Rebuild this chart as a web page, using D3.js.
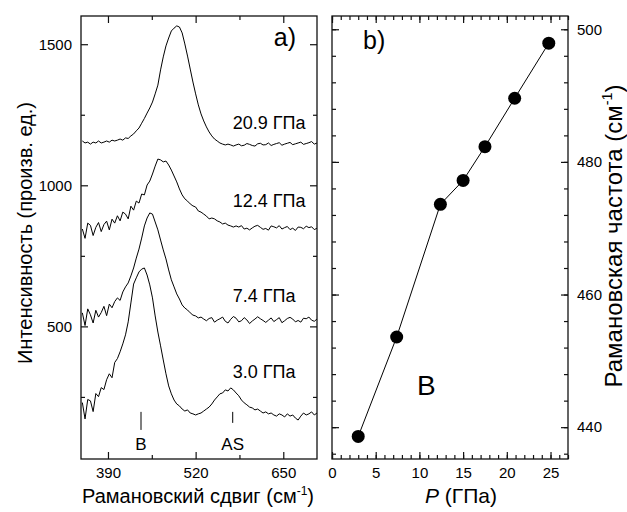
<!DOCTYPE html>
<html>
<head>
<meta charset="utf-8">
<script src="https://cdn.jsdelivr.net/npm/d3@7"></script>
<style>
  body { margin: 0; background: #fff; }
  text { font-family: Arial, "Liberation Sans", sans-serif; fill: #000; }
</style>
</head>
<body>
<svg id="chart" width="627" height="512"></svg>
<script>
// Raman shift grid (cm-1) shared by all spectra
const shift = [352,356,360,364,368,372,376,380,384,388,392,396,400,404,408,412,416,420,424,428,
  432,436,440,444,448,452,456,460,464,468,472,476,480,484,488,492,496,500,504,508,512,516,520,524,
  528,532,536,540,544,548,552,556,560,564,568,572,576,580,584,588,592,596,600,604,608,612,616,620,
  624,628,632,636,640,644,648,652,656,660,664,668,672,676,680,684,688,692,696,700];

// spectra (arb. units, already offset)
const spec30 = [230,172,241,236,198,262,251,283,276,311,332,318,372,386,410,438,470,
  516,583,650,672,693,703,707,682,647,601,537,480,431,381,332,289,261,239,225,218,
  207,200,204,193,190,186,190,193,200,207,214,225,239,250,261,264,275,271,282,275,
  264,254,239,229,222,214,211,204,207,200,193,197,190,193,186,182,190,186,179,190,
  182,186,175,168,182,193,186,190,197,186,193];
const spec74 = [548,503,562,541,512,557,533,549,571,538,579,566,588,601,592,622,640,654,679,707,
  742,774,813,856,884,902,898,870,842,806,771,739,700,665,640,615,597,576,565,558,548,540,537,530,533,526,
  520,528,531,515,522,527,533,518,512,525,535,529,516,520,531,523,510,519,526,534,
  527,521,514,522,530,517,524,531,513,520,528,532,526,516,521,515,529,527,533,522,518,526];
const spec124 = [845,812,866,858,822,851,868,836,861,873,842,880,866,892,874,905,898,881,926,912,
  944,937,969,966,1001,1015,1040,1068,1093,1090,1083,1086,1072,1054,1033,1012,987,966,952,944,
  934,927,923,909,905,898,891,881,884,881,874,870,863,866,859,856,852,856,
  852,857,845,848,842,849,855,858,851,844,847,841,856,853,849,857,845,850,854,843,
  848,840,852,851,846,855,850,853,843,848];
const spec209 = [1157,1150,1153,1146,1153,1150,1157,1150,1153,1157,1153,1160,1157,1160,1164,1160,1168,
  1166,1175,1182,1193,1203,1220,1237,1256,1274,1295,1324,1355,1409,1455,1494,1522,1547,1557,1565,
  1561,1540,1501,1458,1412,1366,1324,1285,1253,1228,1207,1189,1175,1164,1157,1150,1146,1143,1146,1143,1139,
  1143,1146,1140,1142,1148,1145,1141,1139,1147,1149,1143,1144,1150,1141,1145,1148,
  1151,1142,1146,1149,1152,1144,1147,1150,1153,1145,1148,1151,1155,1146,1150];

const spectra = [spec30, spec74, spec124, spec209];
const specLabels = ["3.0 ГПа", "7.4 ГПа", "12.4 ГПа", "20.9 ГПа"];
const specLabelLevel = [317, 587, 923, 1200];

// peak markers under the 3.0 GPa curve
const peakNames = ["B", "AS"];
const peakPos = [439, 575];

// panel b: B-mode frequency vs pressure
const pressure = [3.0, 7.4, 12.4, 15.0, 17.5, 20.9, 24.8];
const ramanFreq = [438.6, 453.6, 473.6, 477.2, 482.3, 489.6, 497.9];

const shiftMajor = [390, 520, 650];
const shiftMinor = [455, 585];
const intMajor = [500, 1000, 1500];
const intMinor = [250, 750, 1250];
const pMajor = [0, 5, 10, 15, 20, 25];
const pMinor = d3.range(0, 28, 1);
const fMajor = [440, 460, 480, 500];
const fMinor = d3.range(436, 501, 4);

const svg = d3.select("#chart");
const H = { top: 16, bottom: 459 };
const A = { left: 81, right: 317 };
const B = { left: 332, right: 568 };

const x1 = d3.scaleLinear().domain([350, 700]).range([A.left, A.right]);
const y1 = d3.scaleLinear().domain([30, 1600]).range([H.bottom, H.top]);
const x2 = d3.scaleLinear().domain([0, 27]).range([B.left, B.right]);
const y2 = d3.scaleLinear().domain([435.2, 502]).range([H.bottom, H.top]);

function ticks(g, axis, scale, values, size, labels, pad) {
  const a = axis(scale).tickValues(values).tickSize(size).tickSizeOuter(0)
    .tickPadding(pad || 8)
    .tickFormat(labels ? d3.format("d") : "");
  g.call(a);
  g.select(".domain").remove();
  g.selectAll("line").attr("stroke", "#111").attr("stroke-width", 1.2);
  g.selectAll("text").attr("font-size", 15).attr("font-family", null);
}

function frame(x, y, xMaj, xMin, yMaj, yMin, yLabelSide) {
  const [l, r] = x.range();
  const [b, t] = y.range();
  const add = (tr) => svg.append("g").attr("transform", tr);
  ticks(add(`translate(0,${b})`), d3.axisBottom, x, xMaj, -7, true, 8);
  ticks(add(`translate(0,${b})`), d3.axisBottom, x, xMin, -4, false);
  ticks(add(`translate(0,${t})`), d3.axisTop, x, xMaj, -7, false);
  ticks(add(`translate(0,${t})`), d3.axisTop, x, xMin, -4, false);
  ticks(add(`translate(${l},0)`), d3.axisLeft, y, yMaj, -7, yLabelSide === "left", 9);
  ticks(add(`translate(${l},0)`), d3.axisLeft, y, yMin, -4, false);
  ticks(add(`translate(${r},0)`), d3.axisRight, y, yMaj, -7, yLabelSide === "right", 9);
  ticks(add(`translate(${r},0)`), d3.axisRight, y, yMin, -4, false);
  svg.append("rect")
    .attr("x", l).attr("y", t).attr("width", r - l).attr("height", b - t)
    .attr("fill", "none").attr("stroke", "#111").attr("stroke-width", 1.3);
}

// ---- panel a ----
const line1 = d3.line().x((d, i) => x1(shift[i])).y((d) => y1(d));
svg.append("g")
  .selectAll("path")
  .data(spectra)
  .join("path")
  .attr("d", line1)
  .attr("fill", "none")
  .attr("stroke", "#000")
  .attr("stroke-width", 1)
  .attr("stroke-linejoin", "round");

svg.append("g")
  .selectAll("text")
  .data(specLabels)
  .join("text")
  .attr("x", x1(575))
  .attr("y", (d, i) => y1(specLabelLevel[i]))
  .attr("font-size", 18)
  .text((d) => d);

const peaks = svg.append("g");
peaks.selectAll("line")
  .data(peakNames)
  .join("line")
  .attr("x1", (d, i) => x1(peakPos[i]))
  .attr("x2", (d, i) => x1(peakPos[i]))
  .attr("y1", y1(197))
  .attr("y2", (d, i) => (i === 0 ? y1(133) : y1(158)))
  .attr("stroke", "#000")
  .attr("stroke-width", 1);
peaks.selectAll("text")
  .data(peakNames)
  .join("text")
  .attr("x", (d, i) => x1(peakPos[i]))
  .attr("y", y1(62))
  .attr("text-anchor", "middle")
  .attr("font-size", 17)
  .text((d) => d);

frame(x1, y1, shiftMajor, shiftMinor, intMajor, intMinor, "left");

svg.append("text")
  .attr("x", 296).attr("y", 46)
  .attr("text-anchor", "end")
  .attr("font-size", 25)
  .text("a)");

// ---- panel b ----
svg.append("path")
  .datum(pressure)
  .attr("d", d3.line().x((d) => x2(d)).y((d, i) => y2(ramanFreq[i])))
  .attr("fill", "none")
  .attr("stroke", "#000")
  .attr("stroke-width", 1);

svg.append("g")
  .selectAll("circle")
  .data(pressure)
  .join("circle")
  .attr("cx", (d) => x2(d))
  .attr("cy", (d, i) => y2(ramanFreq[i]))
  .attr("r", 6.5)
  .attr("fill", "#000");

svg.append("text")
  .attr("x", x2(10.8)).attr("y", y2(444.8))
  .attr("text-anchor", "middle")
  .attr("font-size", 28)
  .text("B");

frame(x2, y2, pMajor, pMinor, fMajor, fMinor, "right");

svg.append("text")
  .attr("x", 363).attr("y", 49)
  .attr("font-size", 25)
  .text("b)");

// ---- axis titles ----
function withUnit(t, main, fs) {
  t.append("tspan").text(main + " (см");
  t.append("tspan").attr("font-size", fs * 0.6).attr("dy", -fs * 0.42).text("-1");
  t.append("tspan").attr("dy", fs * 0.42).text(")");
}

svg.append("text")
  .attr("x", 198).attr("y", 503)
  .attr("text-anchor", "middle")
  .attr("font-size", 20)
  .call(withUnit, "Рамановский сдвиг", 20);

const pt = svg.append("text")
  .attr("x", 461).attr("y", 503)
  .attr("text-anchor", "middle")
  .attr("font-size", 21);
pt.append("tspan").attr("font-style", "italic").text("P");
pt.append("tspan").text(" (ГПа)");

svg.append("text")
  .attr("transform", "translate(32,233) rotate(-90)")
  .attr("text-anchor", "middle")
  .attr("font-size", 20)
  .text("Интенсивность (произв. ед.)");

svg.append("text")
  .attr("transform", "translate(622,236) rotate(-90)")
  .attr("text-anchor", "middle")
  .attr("font-size", 24)
  .call(withUnit, "Рамановская частота", 24);
</script>
</body>
</html>
